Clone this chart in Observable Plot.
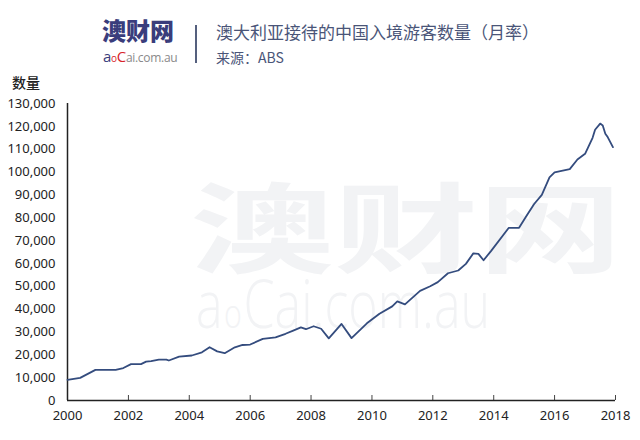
<!DOCTYPE html>
<html>
<head>
<meta charset="utf-8">
<script src="https://cdn.jsdelivr.net/npm/d3@7"></script>
<script src="https://cdn.jsdelivr.net/npm/@observablehq/plot@0.6"></script>
<style>
  html, body { margin: 0; padding: 0; background: #fff; }
  body { width: 640px; height: 440px; position: relative; overflow: hidden;
         font-family: "Noto Sans", "Noto Sans CJK SC", sans-serif; }
  .abs { position: absolute; white-space: nowrap; }
  #wm1 { left: 190px; top: 194px; font-family: "Noto Sans CJK SC", sans-serif; font-weight: 700;
         font-size: 98px; line-height: 56px; height: 56px; color: #f2f3f5;
         transform: scaleX(1.47); transform-origin: 0 0; }
  #wm2 { left: 196px; top: 282px; font-family: "Open Sans", "Noto Sans", sans-serif; font-weight: 300;
         font-size: 66px; line-height: 40px; height: 40px; color: #f2f3f5;
         transform: scaleX(0.76); transform-origin: 0 0; }
  #wm2 span { display: inline-block; }
  #wm2 .s { font-size: 40px; margin-left: 2px; margin-right: 2px; }
  #logo1 { left: 102px; top: 18px; font-family: "Noto Sans CJK SC", sans-serif; font-weight: 900;
           font-size: 24px; line-height: 1; color: #3a3d7c; }
  #logo2 { left: 103px; top: 49px; font-family: "Open Sans", "Noto Sans", sans-serif; font-size: 12px;
           line-height: 1; color: #8a8a8a; letter-spacing: -0.3px; }
  #logo2 .a { color: #3a3d7c; font-size: 15px; }
  #logo2 .o { color: #d8232a; font-size: 10px; }
  #logo2 .c { color: #d8232a; font-size: 15px; }
  #divider { left: 195px; top: 25px; width: 2px; height: 38px; background: #55607e; }
  #title { left: 216px; top: 22px; font-family: "Noto Sans CJK SC", sans-serif; font-size: 17px;
           line-height: 1.2; color: #4a5578; }
  #source { left: 216px; top: 49px; font-family: "Noto Sans CJK SC", sans-serif; font-size: 14px;
            line-height: 1.2; color: #4a5578; }
  #ylabel { left: 12px; top: 74px; font-family: "Noto Sans CJK SC", sans-serif; font-size: 14px;
            line-height: 1.2; color: #222; font-weight: 500; }
  #chart { position: absolute; left: 0; top: 70px; }
</style>
</head>
<body>
<div id="wm1" class="abs">澳财网</div>
<div id="wm2" class="abs"><span>a</span><span class="s">o</span><span>Cai.com.au</span></div>
<div id="logo1" class="abs">澳财网</div>
<div id="logo2" class="abs"><span class="a">a</span><span class="o">o</span><span class="c">C</span>ai.com.au</div>
<div id="divider" class="abs"></div>
<div id="title" class="abs">澳大利亚接待的中国入境游客数量（月率）</div>
<div id="source" class="abs">来源：ABS</div>
<div id="ylabel" class="abs">数量</div>
<div id="chart"></div>
<script>
const months = [
  "2000-01","2000-06","2000-12","2001-08","2001-11","2002-02","2002-06","2002-08","2002-10",
  "2003-01","2003-04","2003-05","2003-09","2004-02","2004-06","2004-09","2004-12","2005-03",
  "2005-07","2005-10","2006-01","2006-06","2006-11","2007-03","2007-06","2007-09","2007-11",
  "2008-02","2008-05","2008-08","2009-01","2009-05","2009-11","2010-04","2010-09","2010-11",
  "2011-02","2011-08","2011-12","2012-03","2012-07","2012-11","2013-02","2013-05","2013-07",
  "2013-09","2013-12","2014-07","2014-11","2015-02","2015-05","2015-08","2015-11","2016-01",
  "2016-07","2016-10","2017-01","2017-04","2017-05","2017-07","2017-08","2017-09","2017-10","2017-12"
];
const visitors = [
  9000, 9900, 13400, 13400, 14200, 15900, 15900, 17000, 17200,
  17900, 17900, 17500, 19200, 19700, 21100, 23300, 21500, 20700,
  23300, 24300, 24500, 27000, 27600, 29200, 30600, 32000, 31200,
  32500, 31400, 27200, 33500, 27300, 33800, 38000, 41200, 43400,
  42100, 48000, 50000, 51800, 55700, 56900, 59800, 64400, 64200,
  61400, 65500, 75600, 75600, 81000, 86000, 90000, 97700, 99900,
  101300, 105500, 108000, 115000, 118500, 121200, 120400, 116800, 115200, 110900
];
const yTicks = [0,10000,20000,30000,40000,50000,60000,70000,80000,90000,100000,110000,120000,130000];
const xTickYears = [2000,2002,2004,2006,2008,2010,2012,2014,2016,2018];

const parse = d3.utcParse("%Y-%m");
const data = months.map((m, i) => ({date: parse(m), value: visitors[i]}));
const xTicks = xTickYears.map(y => new Date(Date.UTC(y, 0, 1)));

const chart = Plot.plot({
  width: 640,
  height: 370,
  marginTop: 33,
  marginBottom: 40,
  marginLeft: 67,
  marginRight: 25,
  style: {background: "transparent", fontFamily: "'Noto Sans', sans-serif", fontSize: "13px", color: "#222"},
  x: {type: "utc", domain: [xTicks[0], xTicks[xTicks.length - 1]]},
  y: {domain: [0, 130000]},
  marks: [
    Plot.axisY({ticks: yTicks, tickSize: 0, tickPadding: 12, tickFormat: d3.format(","), label: null, fill: "#222"}),
    Plot.axisX({ticks: xTicks, tickSize: 0, tickPadding: 10, tickFormat: d3.utcFormat("%Y"), label: null, fill: "#222"}),
    Plot.tickX(xTicks, {x: d => d, insetTop: 292, stroke: "#444", strokeWidth: 1}),
    Plot.ruleY([0], {stroke: "#222", strokeWidth: 1.5}),
    Plot.ruleX([xTicks[0]], {stroke: "#222", strokeWidth: 1.5}),
    Plot.line(data, {x: "date", y: "value", stroke: "#344c7e", strokeWidth: 1.8, curve: "linear"})
  ]
});
document.getElementById("chart").appendChild(chart);
</script>
</body>
</html>
